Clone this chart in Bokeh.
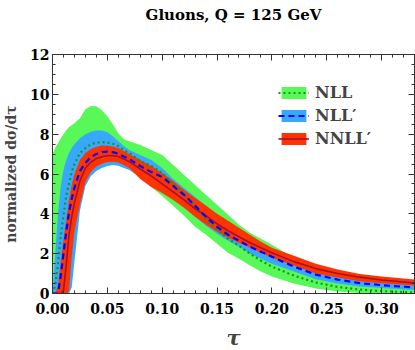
from bokeh.plotting import figure
from bokeh.models import (LinearAxis, SingleIntervalTicker, NumeralTickFormatter,
                          Legend, LegendItem, Range1d, CustomLabelingPolicy)
from bokeh.embed import file_html
from bokeh.resources import INLINE

# ---- data ----
tau = [0, .0025, .005, .0075, .01, .0125, .015, .0175, .02, .025, .03, .035, .04, .045, .05, .055,
       .06, .065, .07, .08, .09, .10, .11, .12, .13, .14, .15, .16, .17, .18, .19, .20,
       .22, .24, .26, .28, .30, .33]

nll_center = [0, 0.4, 1.5, 2.9, 3.9, 4.9, 5.5, 6.1, 6.5, 7.05, 7.3, 7.5, 7.57, 7.6, 7.58, 7.52,
              7.4, 7.2, 7.05, 6.65, 6.4, 6.05, 5.5, 5.0, 4.4, 3.7, 3.2, 2.75, 2.4, 2.0, 1.65, 1.35,
              0.9, 0.55, 0.33, 0.2, 0.12, 0.05]
nll_hi = [7.0, 7.3, 7.55, 7.8, 8.0, 8.2, 8.35, 8.45, 8.55, 8.8, 9.25, 9.42, 9.4, 9.2, 8.9, 8.5,
          8.05, 7.75, 7.65, 7.45, 7.2, 6.95, 6.45, 5.95, 5.45, 4.95, 4.45, 3.95, 3.45, 3.05, 2.75, 2.45,
          1.8, 1.35, 1.0, 0.75, 0.55, 0.35]
nll_lo = [0, 0, 0, 0, 0, 0, 0.9, 2.2, 3.3, 4.95, 5.8, 6.2, 6.42, 6.52, 6.55, 6.55,
          6.5, 6.4, 6.25, 5.8, 5.35, 4.9, 4.4, 3.9, 3.35, 2.95, 2.5, 2.05, 1.75, 1.4, 1.1, 0.85,
          0.5, 0.25, 0.1, 0.03, 0, 0]

nllp_center = [0, 0, 0, 0.9, 2.0, 3.1, 4.05, 4.75, 5.3, 6.15, 6.55, 6.85, 7.0, 7.1, 7.13, 7.1,
               7.02, 6.88, 6.75, 6.4, 6.1, 5.85, 5.4, 4.95, 4.4, 3.85, 3.35, 2.95, 2.65, 2.35, 2.1, 1.85,
               1.35, 0.95, 0.7, 0.52, 0.42, 0.3]
nllp_hi = [0, 2.0, 4.0, 5.4, 6.2, 6.7, 7.05, 7.3, 7.5, 7.8, 8.0, 8.12, 8.18, 8.18, 8.1, 7.9,
           7.65, 7.4, 7.2, 6.95, 6.7, 6.3, 5.75, 5.3, 4.85, 4.4, 3.95, 3.45, 3.0, 2.65, 2.35, 2.1,
           1.75, 1.3, 1.05, 0.8, 0.7, 0.55]
nllp_lo = [0, 0, 0, 0, 0, 0, 0, 0.3, 1.6, 4.15, 5.4, 5.9, 6.15, 6.3, 6.4, 6.45,
           6.42, 6.3, 6.2, 5.85, 5.5, 5.1, 4.8, 4.3, 3.85, 3.4, 3.0, 2.65, 2.35, 2.0, 1.75, 1.5,
           1.1, 0.72, 0.5, 0.35, 0.27, 0.18]

nnllp_center = [0, 0, 0, 0, 0.15, 1.4, 2.9, 3.85, 4.55, 5.65, 6.3, 6.6, 6.78, 6.87, 6.92, 6.93,
                6.88, 6.75, 6.62, 6.25, 5.9, 5.5, 5.1, 4.7, 4.25, 3.9, 3.5, 3.15, 2.85, 2.55, 2.3, 2.05,
                1.6, 1.25, 1.0, 0.82, 0.68, 0.53]
nnllp_hi = [0, 0, 0.4, 1.6, 2.7, 3.7, 4.7, 5.45, 6.0, 6.7, 7.05, 7.25, 7.37, 7.43, 7.42, 7.38,
            7.3, 7.15, 7.0, 6.7, 6.4, 6.05, 5.65, 5.2, 4.8, 4.4, 4.0, 3.65, 3.3, 2.95, 2.6, 2.3,
            1.9, 1.5, 1.2, 0.98, 0.85, 0.7]
nnllp_lo = [0, 0, 0, 0, 0, 0, 0.1, 1.85, 3.1, 4.5, 5.6, 6.1, 6.38, 6.52, 6.6, 6.62,
            6.58, 6.45, 6.3, 5.75, 5.35, 5.05, 4.7, 4.3, 3.85, 3.45, 3.1, 2.8, 2.55, 2.3, 2.05, 1.8,
            1.4, 1.0, 0.8, 0.62, 0.52, 0.4]

labels = ["NLL", "NLL\u2032", "NNLL\u2032"]
title_text = "Gluons, Q = 125 GeV"
x_label = "\u03c4"
y_label = "normalized d\u03c3/d\u03c4"

FONT = "DejaVu Serif"

p = figure(frame_width=362, frame_height=239, output_backend="svg", toolbar_location=None,
           x_range=Range1d(0, 0.33), y_range=Range1d(0, 12),
           min_border_left=50, min_border_right=2, min_border_top=54, min_border_bottom=54,
           x_axis_type=None, y_axis_type=None)
p.grid.visible = False
p.outline_line_color = "#333333"
p.outline_line_width = 1

xt = SingleIntervalTicker(interval=0.05, num_minor_ticks=5)
yt = SingleIntervalTicker(interval=2, num_minor_ticks=4)

no_labels = CustomLabelingPolicy(
    code="const n = indices.size; for (let i = 0; i < n; i++) { indices.unset(i) } return indices")


def style_axis(ax, show):
    ax.axis_line_color = "#333333"
    ax.major_tick_line_color = "#333333"
    ax.minor_tick_line_color = "#333333"
    ax.major_tick_in = 6
    ax.major_tick_out = 0
    ax.minor_tick_in = 3
    ax.minor_tick_out = 0
    if show:
        ax.major_label_text_font = FONT
        ax.major_label_text_font_size = "14px"
        ax.major_label_text_font_style = "bold"
        ax.major_label_text_color = "black"
    else:
        ax.major_label_text_font_size = "1px"
        ax.major_label_standoff = 0
        ax.major_label_policy = no_labels


xb = LinearAxis(ticker=xt, formatter=NumeralTickFormatter(format="0.00"))
style_axis(xb, True)
xb.major_label_standoff = 9
xb.axis_label = x_label
xb.axis_label_text_font = FONT
xb.axis_label_text_font_size = "21px"
xb.axis_label_text_font_style = "bold italic"
xb.axis_label_standoff = 8
p.add_layout(xb, "below")

yl = LinearAxis(ticker=yt)
style_axis(yl, True)
yl.major_label_standoff = 3
yl.axis_label = y_label
yl.axis_label_text_font = FONT
yl.axis_label_text_font_size = "14px"
yl.axis_label_text_font_style = "bold"
yl.axis_label_standoff = 8
p.add_layout(yl, "left")

# top axis: ticks only, its label carries the chart title
xtop = LinearAxis(ticker=xt)
style_axis(xtop, False)
xtop.axis_label = title_text
xtop.axis_label_text_font = FONT
xtop.axis_label_text_font_size = "15px"
xtop.axis_label_text_font_style = "bold"
xtop.axis_label_text_color = "black"
xtop.axis_label_standoff = 27
p.add_layout(xtop, "above")

yr = LinearAxis(ticker=yt)
style_axis(yr, False)
p.add_layout(yr, "right")

# bands
g_band = p.varea(x=tau, y1=nll_lo, y2=nll_hi, fill_color="#58f858")
b_band = p.varea(x=tau, y1=nllp_lo, y2=nllp_hi, fill_color="#38a8ff")
r_band = p.varea(x=tau, y1=nnllp_lo, y2=nnllp_hi, fill_color="#ff3300")

# central lines
g_line = p.line(tau, nll_center, line_color="#119a11", line_width=2.2, line_dash="2 3")
r_line = p.line(tau, nnllp_center, line_color="#a5102e", line_width=1.6)
b_line = p.line(tau, nllp_center, line_color="#0000ff", line_width=2.2, line_dash="6 4")

legend = Legend(items=[LegendItem(label=labels[0], renderers=[g_band, g_line]),
                       LegendItem(label=labels[1], renderers=[b_band, b_line]),
                       LegendItem(label=labels[2], renderers=[r_band, r_line])],
                location=(226, 145), padding=0, margin=0, spacing=4,
                glyph_width=31, glyph_height=15, label_height=15, label_standoff=6,
                label_text_font=FONT, label_text_font_size="16px", label_text_font_style="bold",
                border_line_alpha=0, background_fill_alpha=0)
p.add_layout(legend, "center")

open("out.html", "w").write(file_html(p, INLINE))
